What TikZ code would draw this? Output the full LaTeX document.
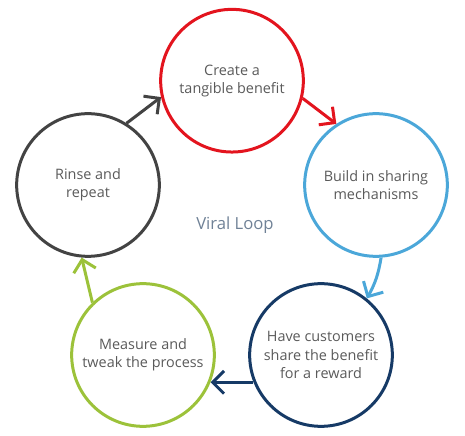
\documentclass[tikz,border=0pt]{standalone}
\usepackage{fontspec}
\setmainfont{Open Sans}
\usetikzlibrary{arrows.meta}

\definecolor{loopred}{HTML}{E3141E}
\definecolor{loopblue}{HTML}{4BA7D9}
\definecolor{loopnavy}{HTML}{163A66}
\definecolor{loopgreen}{HTML}{9CC23A}
\definecolor{loopgray}{HTML}{434343}
\definecolor{looptext}{HTML}{5A5A5A}
\definecolor{looptitle}{HTML}{6F8196}

\tikzset{
  stage/.style={circle, draw, line width=2.25pt, minimum size=107pt, inner sep=0pt,
    align=center, text=looptext, font=\fontsize{10.8}{13.7}\selectfont},
  flow/.style={line width=2.25pt, -{Straight Barb[length=8.5pt,width=17pt]}},
}

\begin{document}
\begin{tikzpicture}[x=0.75pt, y=0.75pt]
\useasboundingbox (0, 0) rectangle (465, 436);
\node[stage, draw=loopred] (create) at (232, 355.3) {Create a\\tangible benefit}; % Stage.create
\node[stage, draw=loopblue] (build) at (376, 251) {Build in sharing\\mechanisms}; % Stage.build
\node[stage, draw=loopnavy] (share) at (321, 81) {Have customers\\share the benefit\\for a reward}; % Stage.share
\node[stage, draw=loopgreen] (measure) at (143, 81) {Measure and\\tweak the process}; % Stage.measure
\node[stage, draw=loopgray] (rinse) at (88, 251) {Rinse and\\repeat}; % Stage.rinse
\node[text=looptitle, font=\fontsize{12.5}{15}\selectfont] (title) at (235, 211) {Viral Loop}; % Title
\draw[flow, loopred] (create.-14) -- (build.123) ; % Flow.create
\draw[flow, loopblue] (build.-86) to[bend left=10] (share.51) ; % Flow.build
\draw[flow, loopnavy] (share.202) -- (measure.-22) ; % Flow.share
\draw[flow, loopgreen] (measure.134) -- (rinse.-95) ; % Flow.measure
\draw[flow, loopgray] (rinse.58) -- (create.193) ; % Flow.rinse
\end{tikzpicture}
\end{document}
